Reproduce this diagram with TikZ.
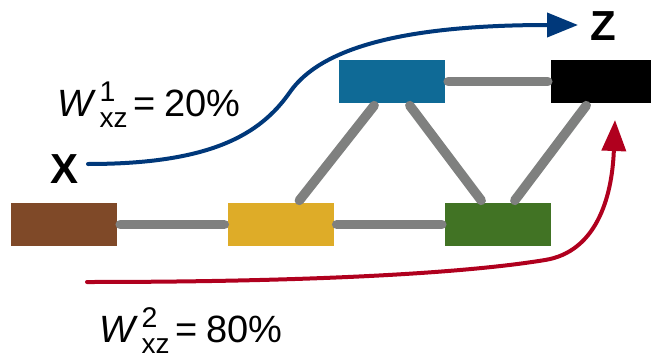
\documentclass[tikz,border=0pt]{standalone}
\usepackage{fontspec}
\setmainfont{Liberation Sans}
\usetikzlibrary{arrows.meta}

\definecolor{brownbox}{HTML}{7F4928}
\definecolor{yellowbox}{HTML}{DEAC28}
\definecolor{greenbox}{HTML}{417324}
\definecolor{bluebox}{HTML}{0F6A96}
\definecolor{linkgray}{HTML}{7F807F}
\definecolor{pathblue}{HTML}{00387A}
\definecolor{pathred}{HTML}{B0001E}

% weight label: italic W with stacked superscript index and "xz" subscript
\newcommand{\weight}[3]{%
  \fontsize{38}{46}\selectfont
  \textit{#1}\hspace{3.5pt}%
  \makebox[0pt][l]{\raisebox{15pt}{\fontsize{28.5}{30}\selectfont #2}}%
  \raisebox{-11pt}{\fontsize{28}{30}\selectfont xz}\hspace{6pt}=\hspace{9pt}#3}

\tikzset{
  nodebox/.style={rectangle, draw=none, minimum width=106pt, minimum height=43pt, inner sep=0pt},
  link/.style={draw=linkgray, line width=9.5pt, line cap=round, shorten <=3pt, shorten >=3pt},
  flow/.style={line width=4pt, line cap=round, -{Triangle[length=31pt,width=24pt]}},
  letter/.style={font=\fontsize{42}{48}\selectfont\bfseries, inner sep=0pt, anchor=base west},
  label/.style={inner sep=0pt, anchor=base west}
}

\begin{document}
\begin{tikzpicture}[x=1pt, y=-1pt]
  \clip (0,0) rectangle (651,359);

  % boxes
  \node[nodebox, fill=brownbox]  (brown)  at (64,224.5)  {};
  \node[nodebox, fill=yellowbox] (yellow) at (280.5,224.5) {};
  \node[nodebox, fill=greenbox]  (green)  at (498,224.5) {};
  \node[nodebox, fill=bluebox]   (blue)   at (392,81.5)  {};
  \node[nodebox, fill=black]     (black)  at (604,81.5)  {};

  % gray links
  \draw[link] (brown.east) -- (yellow.west);
  \draw[link] (yellow.east) -- (green.west);
  \draw[link] (blue.east) -- (black.west);
  \draw[link] ([xshift=17pt]yellow.north) -- ([xshift=-16pt]blue.south);
  \draw[link] ([xshift=16pt]blue.south) -- ([xshift=-15pt]green.north);
  \draw[link] ([xshift=15pt]green.north) -- ([xshift=-16pt]black.south);

  % endpoints
  \node[letter] (X) at (50,183) {X};
  \node[letter] (Z) at (590,40) {Z};

  \coordinate (bstart) at (88,164);
  \coordinate (btip)   at (578,25);
  \coordinate (rstart) at (87,282);
  \coordinate (rtip)   at (615,120);

  % flows
  \draw[flow, pathblue] (bstart) .. controls (210,164) and (260,135) .. (290,92)
        .. controls (320,49) and (400,25) .. (btip);
  \draw[flow, pathred] (rstart) .. controls (300,282) and (460,274) .. (545,260)
        .. controls (595,252) and (612,200) .. (rtip);

  % weights
  \node[label] (w1) at (57,116.5) {\weight{W}{1}{20\%}};
  \node[label] (w2) at (99,342.5) {\weight{W}{2}{80\%}};
\end{tikzpicture}
\end{document}
